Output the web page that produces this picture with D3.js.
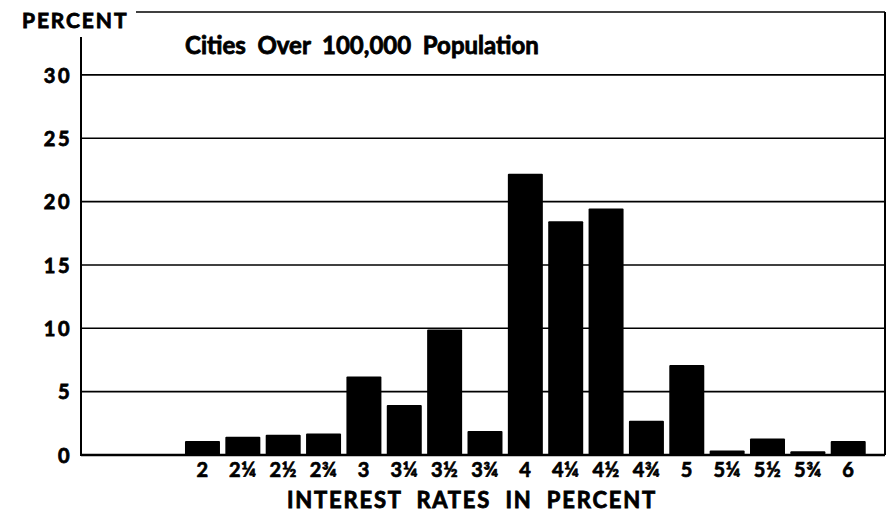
<!DOCTYPE html>
<html>
<head>
<meta charset="utf-8">
<script src="https://cdn.jsdelivr.net/npm/d3@7"></script>
<style>
  html, body { margin: 0; padding: 0; background: #fff; }
  svg { display: block; }
  text { font-family: Lato, "Noto Sans", sans-serif; font-weight: 700; fill: #000; stroke: #000; stroke-width: 0.8px; }
</style>
</head>
<body>
<script>
const categories = ["2", "2¼", "2½", "2¾", "3", "3¼", "3½", "3¾", "4", "4¼", "4½", "4¾", "5", "5¼", "5½", "5¾", "6"];
const values = [1.1, 1.45, 1.6, 1.7, 6.2, 3.95, 9.9, 1.9, 22.2, 18.45, 19.45, 2.7, 7.1, 0.35, 1.3, 0.3, 1.1];
const yTicks = [0, 5, 10, 15, 20, 25, 30];
const title = "Cities  Over  100,000  Population";
const xTitle = "INTEREST  RATES  IN  PERCENT";
const yTitle = "PERCENT";

const W = 894, H = 513;
const plot = { left: 81, right: 885, top: 12, bottom: 455 };

const svg = d3.select("body").append("svg").attr("width", W).attr("height", H);

const y = d3.scaleLinear().domain([0, 35]).range([plot.bottom, plot.bottom - 35 * 12.67]);
const x = d3.scaleBand().domain(categories).range([182.3, 868.4])
  .paddingInner(0.133).paddingOuter(0.0665);

// gridlines
svg.append("g").selectAll("line").data(yTicks.filter(d => d > 0)).join("line")
  .attr("x1", plot.left).attr("x2", plot.right)
  .attr("y1", d => y(d)).attr("y2", d => y(d))
  .attr("stroke", "#000").attr("stroke-width", 1.6);

// frame (top line starts after the PERCENT label)
svg.append("line").attr("x1", 136).attr("x2", plot.right)
  .attr("y1", plot.top).attr("y2", plot.top).attr("stroke", "#000").attr("stroke-width", 1.6);
svg.append("line").attr("x1", plot.right).attr("x2", plot.right)
  .attr("y1", plot.top).attr("y2", plot.bottom).attr("stroke", "#000").attr("stroke-width", 2);

// bars
svg.append("g").selectAll("rect").data(values).join("rect")
  .attr("x", (d, i) => x(categories[i]))
  .attr("width", x.bandwidth())
  .attr("y", d => y(d))
  .attr("height", d => y(0) - y(d))
  .attr("rx", 1)
  .attr("fill", "#000");

// baseline + left axis
svg.append("line").attr("x1", plot.left).attr("x2", plot.right)
  .attr("y1", y(0)).attr("y2", y(0)).attr("stroke", "#000").attr("stroke-width", 2.4);
svg.append("line").attr("x1", plot.left).attr("x2", plot.left)
  .attr("y1", 37).attr("y2", y(0) + 1).attr("stroke", "#000").attr("stroke-width", 2);

// y tick labels via axis
const yAxis = d3.axisLeft(y).tickValues(yTicks).tickSize(0).tickPadding(9);
const gy = svg.append("g").attr("transform", `translate(${plot.left},0)`).call(yAxis);
gy.select(".domain").remove();
gy.selectAll("text").style("font-size", "20px").attr("dy", "0.36em")
  .style("letter-spacing", "2.5px")
  .style("font-family", "Lato, 'Noto Sans', sans-serif").style("font-weight", 700)
  .style("stroke", "#000").style("stroke-width", "0.8px");

// x tick labels via axis
const xAxis = d3.axisBottom(x).tickSize(0).tickPadding(8);
const gx = svg.append("g").attr("transform", `translate(0,${y(0)})`).call(xAxis);
gx.select(".domain").remove();
gx.selectAll("text").style("font-size", "20px").style("letter-spacing", "0.5px")
  .style("font-family", "Lato, 'Noto Sans', sans-serif").style("font-weight", 700)
  .style("stroke", "#000").style("stroke-width", "0.7px");

// titles
svg.append("text").attr("x", 185).attr("y", 54).style("font-size", "24px")
  .attr("xml:space", "preserve").text(title);
svg.append("text").attr("x", 472).attr("y", 508).attr("text-anchor", "middle")
  .style("font-size", "22px").style("letter-spacing", "1.8px")
  .attr("xml:space", "preserve").text(xTitle);
svg.append("text").attr("x", 22).attr("y", 28).style("font-size", "21px")
  .style("letter-spacing", "1.9px").text(yTitle);
</script>
</body>
</html>
